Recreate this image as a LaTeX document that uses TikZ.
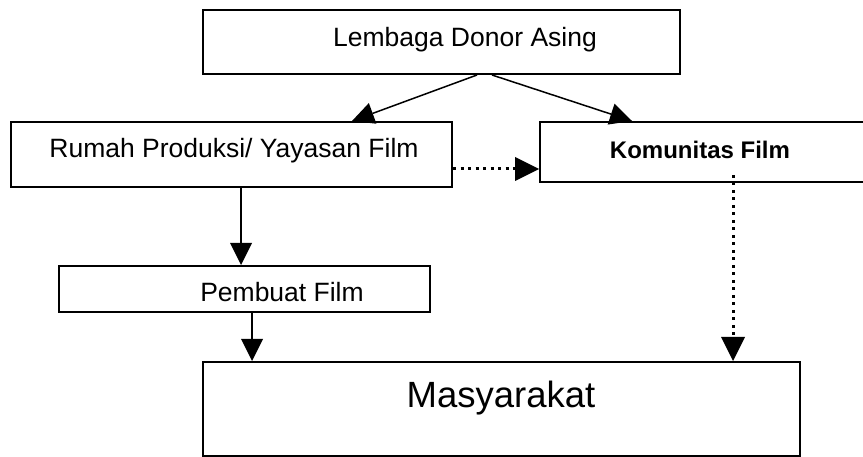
\documentclass[tikz,border=0pt]{standalone}
\usepackage{fontspec}
\setmainfont{Liberation Sans}
\usetikzlibrary{arrows.meta}
\begin{document}
\begin{tikzpicture}[x=1pt,y=-1pt,
  box/.style={draw, line width=2pt, rectangle, inner sep=0pt},
  arr/.style={line width=1.5pt, -{Triangle[length=22pt,width=22pt,line width=0pt]}},
  dotarr/.style={line width=3pt, dash pattern=on 3pt off 4.5pt, -{Triangle[length=24pt,width=24pt,line width=0pt]}},
  lbl/.style={anchor=base, inner sep=0pt, font=\fontsize{26.5}{30}\selectfont}
]
\useasboundingbox (0,0) rectangle (863,457);
\clip (0,0) rectangle (863,457);
\node[box, minimum width=477pt, minimum height=64pt] (donor) at (441.5,42) {};
\node[lbl] (donort) at (465,47) {Lembaga Donor Asing};
\node[box, minimum width=441pt, minimum height=65pt] (rumah) at (231.5,154.5) {};
\node[lbl] (rumaht) at (234,158) {Rumah Produksi/ Yayasan Film};
\node[box, minimum width=325pt, minimum height=60pt] (komunitas) at (702.5,152) {};
\node[lbl, font=\bfseries\fontsize{24}{28}\selectfont] (komt) at (700,159) {Komunitas Film};
\node[box, minimum width=371pt, minimum height=46pt] (pembuat) at (244.5,289) {};
\node[lbl] (pembt) at (282,302) {Pembuat Film};
\node[box, minimum width=597pt, minimum height=94pt] (masy) at (501.5,409) {};
\node[lbl, font=\fontsize{36.5}{40}\selectfont] (masyt) at (501,407) {Masyarakat};

\draw[arr] ([xshift=35.5pt]donor.south) -- ([xshift=120.5pt]rumah.north);
\draw[arr] ([xshift=50.5pt]donor.south) -- ([xshift=-70.5pt]komunitas.north);
\coordinate (d1) at ([yshift=-14.5pt]rumah.east);
\draw[dotarr] (d1) -- (d1 -| komunitas.west);
\coordinate (v1) at ([xshift=9.5pt]rumah.south);
\draw[arr] (v1) -- (v1 |- pembuat.north);
\coordinate (v2) at ([xshift=7.5pt]pembuat.south);
\draw[arr] (v2) -- (v2 |- masy.north);
\coordinate (v3) at ([xshift=30.5pt,yshift=8pt]komunitas.south);
\draw[dotarr] (v3) -- (v3 |- masy.north);
\end{tikzpicture}
\end{document}
